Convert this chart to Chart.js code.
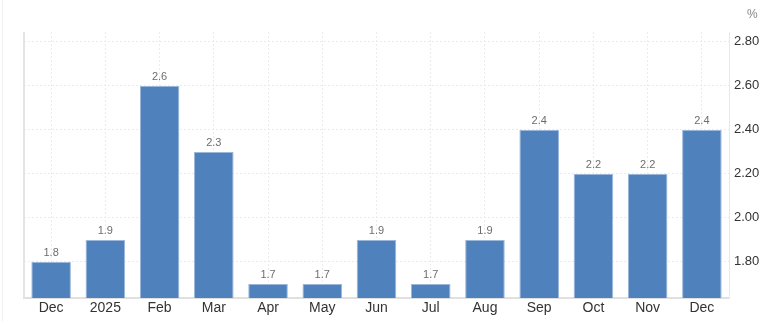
<!DOCTYPE html>
<html>
<head>
<meta charset="utf-8">
<script src="https://cdn.jsdelivr.net/npm/chart.js@4"></script>
<style>
  html, body { margin: 0; padding: 0; background: #fff; }
  #wrap { width: 767px; height: 321px; }
</style>
</head>
<body>
<div id="wrap"><canvas id="chart" width="767" height="321"></canvas></div>
<script>
// data
const months = ["Dec", "2025", "Feb", "Mar", "Apr", "May", "Jun", "Jul", "Aug", "Sep", "Oct", "Nov", "Dec"];
const rates = [1.8, 1.9, 2.6, 2.3, 1.7, 1.7, 1.9, 1.7, 1.9, 2.4, 2.2, 2.2, 2.4];
const yTicks = [1.8, 2.0, 2.2, 2.4, 2.6, 2.8];
const unitLabel = "%";

// draws the value above each bar, the unit and the frame lines
const extras = {
  id: "extras",
  beforeDatasetsDraw(chart) {
    const { ctx, chartArea } = chart;
    ctx.save();
    ctx.strokeStyle = "#e4e4e4";
    ctx.lineWidth = 2;
    ctx.beginPath();
    ctx.moveTo(chartArea.left, chartArea.top);
    ctx.lineTo(chartArea.left, chartArea.bottom);
    ctx.stroke();
    ctx.strokeStyle = "#f0f0f0";
    ctx.lineWidth = 1;
    ctx.beginPath();
    ctx.moveTo(2.5, 0);
    ctx.lineTo(2.5, 321);
    ctx.stroke();
    ctx.restore();
  },
  afterDatasetsDraw(chart) {
    const { ctx } = chart;
    const meta = chart.getDatasetMeta(0);
    ctx.save();
    ctx.font = "11px 'Liberation Sans', Arial, sans-serif";
    ctx.fillStyle = "#6d6d6d";
    ctx.textAlign = "center";
    ctx.textBaseline = "bottom";
    meta.data.forEach((bar, i) => {
      ctx.fillText(rates[i].toFixed(1), bar.x, bar.y - 3);
    });
    ctx.font = "12px 'Liberation Sans', Arial, sans-serif";
    ctx.fillStyle = "#888";
    ctx.textAlign = "left";
    ctx.textBaseline = "middle";
    ctx.fillText(unitLabel, 747, 15);
    ctx.restore();
  }
};

const ctx = document.getElementById("chart").getContext("2d");
const chart = new Chart(ctx, {
  type: "bar",
  data: {
    labels: months,
    datasets: [{
      data: rates,
      backgroundColor: "#4f81bd",
      borderColor: "#9bb7da",
      borderWidth: { left: 1, right: 1, top: 1, bottom: 0 },
      categoryPercentage: 1,
      barPercentage: 0.73
    }]
  },
  plugins: [extras],
  options: {
    responsive: false,
    animation: false,
    layout: { padding: { left: 24, right: 0, top: 32, bottom: 0 } },
    plugins: {
      legend: { display: false },
      tooltip: { enabled: false }
    },
    scales: {
      x: {
        offset: true,
        grid: {
          offset: false,
          color: "#ebebeb",
          drawTicks: false
        },
        border: { color: "#e0e0e0", width: 2, dash: [2, 2] },
        ticks: {
          color: "#333",
          font: { family: "'Liberation Sans', Arial, sans-serif", size: 14 },
          padding: 2,
          maxRotation: 0,
          autoSkip: false
        },
        afterFit(scale) { scale.height = 23; }
      },
      y: {
        position: "right",
        min: 1.636,
        max: 2.845,
        afterBuildTicks(scale) {
          scale.ticks = yTicks.map(v => ({ value: v }));
        },
        grid: {
          color: "#ebebeb",
          drawTicks: false
        },
        border: { color: "#e8e8e8", width: 1, dash: [2, 2] },
        ticks: {
          color: "#333",
          font: { family: "'Liberation Sans', Arial, sans-serif", size: 13 },
          padding: 5,
          callback: v => v.toFixed(2)
        },
        afterFit(scale) { scale.width = 38; }
      }
    }
  }
});
</script>
</body>
</html>
